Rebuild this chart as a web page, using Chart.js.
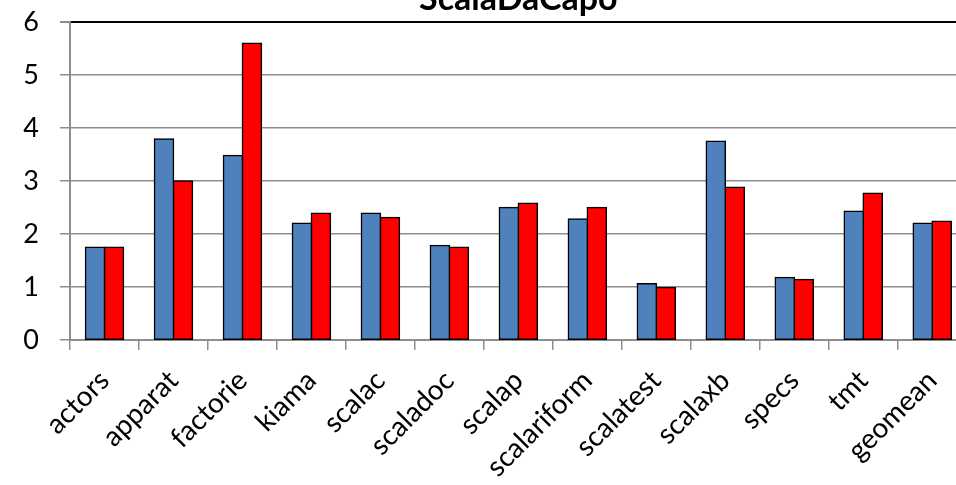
<!DOCTYPE html>
<html>
<head>
<meta charset="utf-8">
<script src="https://cdn.jsdelivr.net/npm/chart.js@4/dist/chart.umd.min.js"></script>
<style>
  html, body { margin: 0; padding: 0; background: #fff; overflow: hidden; width: 956px; height: 485px; }
  #wrap { position: absolute; left: 0; top: -30px; }
</style>
</head>
<body>
<div id="wrap"><canvas id="chart" width="970" height="515"></canvas></div>
<script>
const title = 'ScalaDaCapo';
const benchmarks = ['actors', 'apparat', 'factorie', 'kiama', 'scalac', 'scaladoc', 'scalap',
  'scalariform', 'scalatest', 'scalaxb', 'specs', 'tmt', 'geomean'];
const blueValues = [1.75, 3.79, 3.48, 2.20, 2.39, 1.78, 2.50, 2.28, 1.06, 3.75, 1.18, 2.43, 2.20];
const redValues  = [1.75, 3.00, 5.60, 2.39, 2.31, 1.75, 2.58, 2.50, 0.99, 2.88, 1.14, 2.77, 2.24];
const yTicks = [0, 1, 2, 3, 4, 5, 6];

const FONT = 'Lato, "Open Sans", sans-serif';
const GRID = '#8e8e8e';

// title sits over the middle of the plot area, mostly cut off at the top
const titlePlugin = {
  id: 'topTitle',
  afterDraw(chart) {
    const ctx = chart.ctx;
    const a = chart.chartArea;
    ctx.save();
    ctx.font = 'bold 34px ' + FONT;
    ctx.fillStyle = '#000';
    ctx.textAlign = 'center';
    ctx.textBaseline = 'alphabetic';
    ctx.fillText(title, (a.left + a.right) / 2, 40);
    ctx.restore();
  }
};

new Chart(document.getElementById('chart'), {
  type: 'bar',
  data: {
    labels: benchmarks,
    datasets: [
      { data: blueValues, backgroundColor: '#4F81BD', borderColor: '#000', borderWidth: 1.5, borderSkipped: false, inflateAmount: 0.8 },
      { data: redValues, backgroundColor: '#FF0000', borderColor: '#000', borderWidth: 1.5, borderSkipped: false, inflateAmount: 0.8 }
    ]
  },
  options: {
    responsive: false,
    animation: false,
    layout: { padding: { top: 52, right: 0, left: 0, bottom: 0 } },
    plugins: { legend: { display: false }, tooltip: { enabled: false } },
    datasets: { bar: { categoryPercentage: 0.55, barPercentage: 1 } },
    scales: {
      x: {
        offset: true,
        grid: { drawOnChartArea: false, offset: true, tickLength: 10, color: GRID, lineWidth: 1.5 },
        border: { color: GRID, width: 2 },
        ticks: { color: '#000', font: { family: FONT, size: 28 }, minRotation: 45, maxRotation: 45, padding: 14, autoSkip: false },
        afterFit(s) { s.height = 145; }
      },
      y: {
        min: 0,
        max: 6,
        afterBuildTicks(s) { s.ticks = yTicks.map(v => ({ value: v })); },
        grid: {
          tickLength: 10,
          color: c => c.tick && c.tick.value === 6 ? '#000' : GRID,
          lineWidth: c => c.tick && c.tick.value === 6 ? 2 : 1.5,
          tickColor: GRID
        },
        border: { color: GRID, width: 2 },
        ticks: { color: '#000', font: { family: FONT, size: 27 }, padding: 21 },
        afterFit(s) { s.width = 70; }
      }
    }
  },
  plugins: [titlePlugin]
});
</script>
</body>
</html>
